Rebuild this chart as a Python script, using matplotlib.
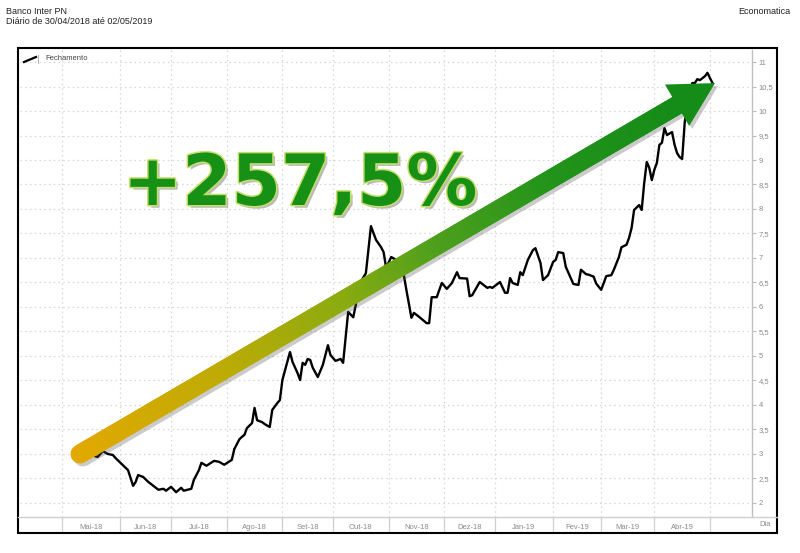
import numpy as np
import matplotlib
matplotlib.use("Agg")
import matplotlib.pyplot as plt
from matplotlib.collections import LineCollection
from matplotlib.patches import Polygon, Rectangle
from matplotlib.lines import Line2D
from matplotlib.colors import LinearSegmentedColormap
from matplotlib.ticker import FixedLocator, FuncFormatter
import matplotlib.patheffects as pe
import matplotlib.transforms as mtransforms

plt.rcParams['font.family'] = ['Liberation Sans', 'DejaVu Sans']

# Dados: pregoes desde 30/04/2018 e fechamento (R$)
sessoes = [0, 2, 5, 7, 9, 11, 13, 14, 16, 19, 21, 22, 23, 25, 27, 30, 31, 33, 34, 36,
           38, 40, 41, 44, 45, 47, 48, 50, 53, 55, 57, 60, 61, 63, 64, 65, 66, 68, 69, 70,
           72, 73, 75, 76, 78, 79, 80, 83, 84, 86, 87, 88, 89, 90, 91, 92, 94, 96, 98, 99,
           101, 103, 104, 105, 106, 108, 109, 110, 113, 115, 117, 119, 120, 121, 123, 125, 126, 128, 129, 131,
           132, 134, 137, 138, 139, 141, 143, 145, 147, 149, 150, 153, 154, 155, 158, 161, 162, 163, 166, 168,
           169, 170, 171, 173, 174, 175, 177, 179, 180, 182, 183, 185, 187, 188, 189, 191, 192, 194, 195, 197,
           198, 200, 201, 203, 204, 206, 208, 210, 211, 213, 214, 216, 217, 218, 219, 221, 222, 223, 224, 225,
           226, 227, 228, 229, 230, 231, 232, 234, 235, 236, 237, 238, 239, 240, 242, 243, 244, 245, 247, 248,
           249, 250]
fechamento = [3.00, 3.03, 2.97, 2.94, 3.06, 3.00, 2.98, 2.92, 2.82, 2.67, 2.35, 2.43, 2.57, 2.53, 2.43, 2.31, 2.27, 2.29, 2.25, 2.33,
              2.22, 2.31, 2.25, 2.29, 2.47, 2.67, 2.82, 2.76, 2.86, 2.84, 2.78, 2.88, 3.10, 3.30, 3.35, 3.39, 3.53, 3.63, 3.94, 3.69,
              3.65, 3.61, 3.55, 3.90, 4.04, 4.10, 4.51, 5.08, 4.88, 4.65, 4.51, 4.86, 4.82, 4.94, 4.92, 4.76, 4.57, 4.82, 5.22, 5.02,
              4.90, 4.94, 4.86, 5.38, 5.90, 5.79, 6.04, 6.43, 6.69, 7.65, 7.37, 7.22, 7.12, 6.80, 7.02, 6.96, 6.82, 6.65, 6.35, 5.78,
              5.88, 5.80, 5.67, 5.67, 6.20, 6.20, 6.49, 6.37, 6.49, 6.71, 6.59, 6.58, 6.22, 6.24, 6.51, 6.39, 6.41, 6.39, 6.51, 6.29,
              6.29, 6.59, 6.49, 6.45, 6.71, 6.65, 6.96, 7.16, 7.20, 6.90, 6.55, 6.65, 6.92, 6.96, 7.12, 7.10, 6.82, 6.59, 6.47, 6.45,
              6.76, 6.67, 6.66, 6.62, 6.48, 6.35, 6.63, 6.65, 6.76, 7.02, 7.22, 7.27, 7.41, 7.61, 7.98, 8.08, 7.98, 8.53, 8.96, 8.84,
              8.59, 8.80, 8.94, 9.31, 9.35, 9.65, 9.51, 9.57, 9.31, 9.14, 9.06, 9.02, 9.76, 10.16, 10.57, 10.57, 10.65, 10.63, 10.71, 10.78,
              10.67, 10.57]

# limites dos meses (em pregoes) e rotulos
limites_meses = [-7, 16, 36, 58, 80, 100, 122, 144, 164, 187, 206, 227, 249]
meses = ['Mai-18', 'Jun-18', 'Jul-18', 'Ago-18', 'Set-18', 'Out-18', 'Nov-18',
         'Dez-18', 'Jan-19', 'Fev-19', 'Mar-19', 'Abr-19']
y_ticks = list(np.arange(2, 11.01, 0.5))
variacao = '+257,5%'

W, H = 800, 553
fig = plt.figure(figsize=(W / 100, H / 100), dpi=100)
fig.patch.set_facecolor('white')

# area do grafico (px)
L, R, T, B = 20, 752, 50, 517
ax = fig.add_axes([L / W, 1 - B / H, (R - L) / W, (B - T) / H])
ax.set_xlim(-23.7, 265.6)
ax.set_ylim(1.714, 11.245)

grid_kw = dict(color='#d6d6d6', linestyle=(0, (1.2, 2.6)), linewidth=0.9)
ax.set_xticks(limites_meses)
ax.xaxis.set_minor_locator(FixedLocator([(a + b) / 2 for a, b in zip(limites_meses[:-1], limites_meses[1:])]))
ax.xaxis.set_minor_formatter(FuncFormatter(lambda v, p: meses[p] if p < len(meses) else ''))
ax.set_xticklabels([])
ax.tick_params(axis='x', which='major', length=11.5, width=0.9, color='#cfcfcf', direction='out')
ax.tick_params(axis='x', which='minor', length=0, pad=5, labelsize=5.5, labelcolor='#8a8a8a')
ax.grid(True, axis='x', which='major', **grid_kw)

ax.set_yticks(y_ticks)
ax.yaxis.tick_right()
ax.yaxis.set_major_formatter(FuncFormatter(lambda v, p: ('%g' % v).replace('.', ',')))
ax.tick_params(axis='y', length=3, width=0.8, color='#bbbbbb', labelsize=5.5,
               labelcolor='#8a8a8a', pad=2)
ax.grid(True, axis='y', **grid_kw)

for s in ['top', 'left', 'bottom']:
    ax.spines[s].set_visible(False)
ax.spines['right'].set_color('#c0c0c0')
ax.spines['right'].set_linewidth(1.0)

# linha de preco
ax.plot(sessoes, fechamento, color='black', linewidth=1.7, zorder=3)

# seta em degrade do primeiro ao ultimo fechamento
fig.canvas.draw()
tdata = ax.transData
tail = tdata.transform((sessoes[0], fechamento[0]))
tip = tdata.transform((sessoes[-1] + 1, fechamento[-1]))
u = (tip - tail) / np.hypot(*(tip - tail))
n = np.array([-u[1], u[0]])
head_len, head_half = 44, 24
base = tip - head_len * u
head_px = np.array([tip, base + head_half * n, base - head_half * n])
inv = tdata.inverted()
head_data = inv.transform(head_px)

cmap = LinearSegmentedColormap.from_list('seta', [
    (0.0, '#e2a900'), (0.25, '#bdab04'), (0.45, '#8aab10'),
    (0.6, '#4fa01c'), (0.8, '#22931a'), (1.0, '#168c18')])
N = 160
pts_px = tail + np.outer(np.linspace(0, 1, N + 1), (base + 4 * u) - tail)
pts = inv.transform(pts_px)
segs = np.stack([pts[:-1], pts[1:]], axis=1)
shaft_lw = 19 * 72 / 100

shadow_tr = mtransforms.offset_copy(tdata, fig=fig, x=3, y=-3, units='dots')
ax.plot(pts[:, 0], pts[:, 1], color='#555555', alpha=0.3, linewidth=shaft_lw,
        solid_capstyle='round', transform=shadow_tr, zorder=4)
ax.add_patch(Polygon(head_data, closed=True, facecolor='#555555', alpha=0.3,
                     edgecolor='none', transform=shadow_tr, zorder=4))

lc = LineCollection(segs, colors=cmap(np.linspace(0, 1, N)), linewidths=shaft_lw,
                    capstyle='round', zorder=5)
ax.add_collection(lc)
ax.add_patch(Polygon(head_data, closed=True, facecolor='#168c18', edgecolor='none', zorder=6))

# texto da variacao
fig.text(123 / W, 1 - 205 / H, variacao, fontsize=51, fontweight='bold',
         family='DejaVu Sans', color='#169116', ha='left', va='baseline', zorder=10,
         path_effects=[pe.SimplePatchShadow(offset=(2, -2), shadow_rgbFace='#777777', alpha=0.5),
                       pe.Stroke(linewidth=2.2, foreground='#c6de6a'), pe.Normal()])

# legenda
fig.add_artist(Line2D([24 / W, 36 / W], [1 - 62 / H, 1 - 57 / H], transform=fig.transFigure,
                      color='black', linewidth=1.6))
fig.add_artist(Line2D([38 / W, 38 / W], [1 - 63 / H, 1 - 55 / H], transform=fig.transFigure,
                      color='#bbbbbb', linewidth=0.8))
fig.text(45 / W, 1 - 59 / H, 'Fechamento', fontsize=5.5, color='#444444', va='center')

# titulos
fig.text(6 / W, 1 - 11 / H, 'Banco Inter PN', fontsize=6.5, color='#222222', va='center')
fig.text(6 / W, 1 - 22 / H, 'Diário de 30/04/2018 até 02/05/2019', fontsize=6.5,
         color='#222222', va='center')
fig.text(790 / W, 1 - 11 / H, 'Economatica', fontsize=6.5, color='#222222',
         va='center', ha='right')
fig.text(765 / W, 1 - 525 / H, 'Dia', fontsize=5.5, color='#8a8a8a', va='center', ha='center')

# moldura e linha base
fig.add_artist(Line2D([18 / W, 777 / W], [1 - B / H, 1 - B / H], transform=fig.transFigure,
                      color='#cfcfcf', linewidth=1.0))
fig.add_artist(Rectangle((18 / W, 1 - 533 / H), (777 - 18) / W, (533 - 48) / H,
                         transform=fig.transFigure, fill=False, edgecolor='black', linewidth=1.5))

fig.savefig('out.png', dpi=100, facecolor='white')
